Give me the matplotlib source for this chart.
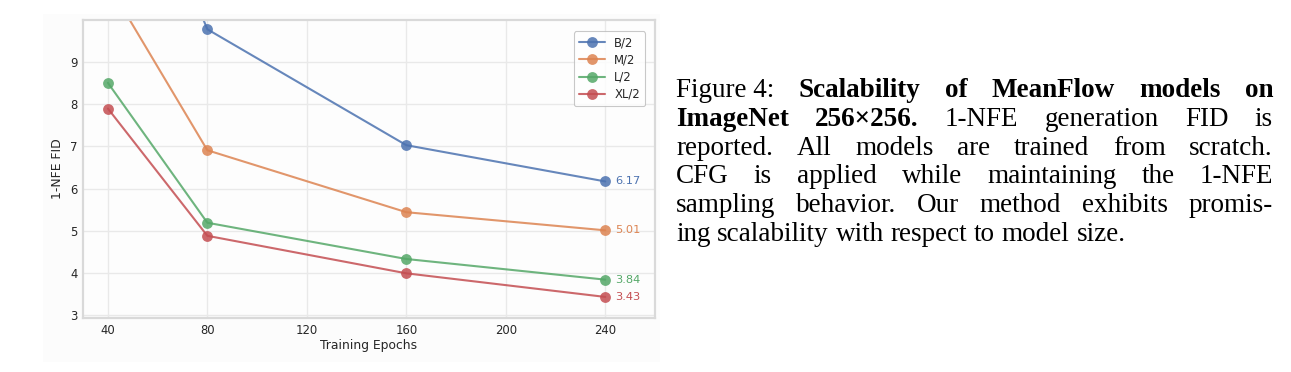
import matplotlib
matplotlib.use("Agg")
import matplotlib.pyplot as plt
import seaborn as sns
from matplotlib.patches import Rectangle

sns.set_theme(style="whitegrid")
plt.rcParams['font.family'] = ['DejaVu Sans']

# ---- data ----
epochs = [40, 80, 160, 240]
models = ["B/2", "M/2", "L/2", "XL/2"]
fid_b2 = [15.5, 9.78, 7.03, 6.17]
fid_m2 = [10.87, 6.91, 5.44, 5.01]
fid_l2 = [8.51, 5.19, 4.33, 3.84]
fid_xl2 = [7.90, 4.88, 3.99, 3.43]
series = [fid_b2, fid_m2, fid_l2, fid_xl2]
x_ticks = [40, 80, 120, 160, 200, 240]
y_ticks = [3, 4, 5, 6, 7, 8, 9]
colors = ["#4C72B0", "#DD8452", "#55A868", "#C44E52"]

W, H = 1291, 372
fig = plt.figure(figsize=(W / 100, H / 100), dpi=100)
fig.patch.set_facecolor("white")

# off-white background of embedded chart image
bg = Rectangle((43 / W, 1 - 362 / H), (660 - 43) / W, (362 - 14) / H,
               transform=fig.transFigure, facecolor="#fcfcfc",
               edgecolor="none", zorder=-10)
fig.patches.append(bg)

ax = fig.add_axes([83 / W, 1 - 318 / H, (655 - 83) / W, (318 - 20) / H])
ax.set_zorder(5)
ax.set_facecolor("#fdfdfd")
for name, vals, c in zip(models, series, colors):
    ax.plot(epochs, vals, color=c, lw=1.5, alpha=0.85, marker="o", ms=7.8,
            markeredgewidth=0, label=name, clip_on=True)
    ax.annotate(f"{vals[-1]:.2f}", (epochs[-1], vals[-1]), xytext=(7, 0),
                textcoords="offset points", va="center", ha="left",
                fontsize=8.2, color=c)

ax.set_xlim(30, 260)
ax.set_ylim(2.93, 10.0)
ax.set_xticks(x_ticks)
ax.set_yticks(y_ticks)
ax.tick_params(axis="both", labelsize=8.4, colors="#262626", pad=4, length=0)
ax.set_xlabel("Training Epochs", fontsize=8.9, color="#262626", labelpad=2)
ax.set_ylabel("1-NFE FID", fontsize=8.9, color="#262626", labelpad=4)
ax.grid(True, color="#e9e9e9", lw=1.0)
for s in ax.spines.values():
    s.set_color("#d9d9d9")
    s.set_linewidth(1.6)
leg = ax.legend(loc="upper right", fontsize=8.4, frameon=True, fancybox=True,
                borderpad=0.45, labelspacing=0.35, handlelength=2.2,
                bbox_to_anchor=(0.993, 0.982))
leg.get_frame().set_edgecolor("#bbbbbb")
leg.get_frame().set_facecolor("white")
leg.get_frame().set_linewidth(0.8)

# ---- caption (justified) ----
cap_lines = [
    [("Figure 4:", False), ("Scalability", True), ("of", True), ("MeanFlow", True),
     ("models", True), ("on", True)],
    [("ImageNet", True), ("256\u00d7256.", True), ("1-NFE", False), ("generation", False),
     ("FID", False), ("is", False)],
    [("reported.", False), ("All", False), ("models", False), ("are", False),
     ("trained", False), ("from", False), ("scratch.", False)],
    [("CFG", False), ("is", False), ("applied", False), ("while", False),
     ("maintaining", False), ("the", False), ("1-NFE", False)],
    [("sampling", False), ("behavior.", False), ("Our", False), ("method", False),
     ("exhibits", False), ("promis-", False)],
    [("ing", False), ("scalability", False), ("with", False), ("respect", False),
     ("to", False), ("model", False), ("size.", False)],
]
x_left, x_right = 676, 1273
y0, dy = 97, 28.8
fs = 19.5
renderer = fig.canvas.get_renderer()
for i, words in enumerate(cap_lines):
    yb = y0 + i * dy
    texts = []
    for w, b in words:
        t = fig.text(0, 1 - yb / H, w, fontsize=fs, family="Liberation Serif",
                     fontweight="bold" if b else "normal", color="black",
                     va="baseline", ha="left")
        texts.append(t)
    widths = [t.get_window_extent(renderer).width for t in texts]
    total = sum(widths)
    last = i == len(cap_lines) - 1
    if last:
        gap = fs * 100 / 72 * 0.25
    else:
        gap = (x_right - x_left - total) / (len(texts) - 1)
    x = x_left
    for t, w in zip(texts, widths):
        t.set_x(x / W)
        x += w + gap

fig.savefig("out.png", dpi=100, facecolor="white")
